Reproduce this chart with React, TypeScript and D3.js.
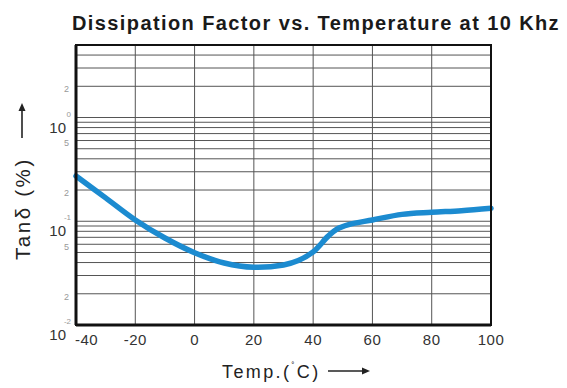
import * as d3 from 'd3';

const temps = [-40, -30, -20, -10, 0, 10, 20, 30, 35, 40, 45, 48, 52, 60, 70, 80, 90, 100];
const tanDelta = [0.273, 0.168, 0.103, 0.069, 0.0498, 0.0396, 0.036, 0.0379, 0.0418, 0.0506, 0.0715, 0.0842, 0.093, 0.103, 0.1165, 0.122, 0.1265, 0.1334];
const xTicks = [-40, -20, 0, 20, 40, 60, 80, 100];
const decades = [0, -1, -2];
const minorLabels = [2, 0.5, 0.2, 0.05, 0.02];

const W = 567;
const H = 388;
const margin = { top: 45, right: 76, bottom: 63, left: 76 };
const font = "'Liberation Sans', Arial, sans-serif";

export default function App() {
  const x = d3.scaleLinear().domain([-40, 100]).range([margin.left, W - margin.right]);
  const y = d3.scaleLog().domain([0.01, 5]).range([H - margin.bottom, margin.top]);

  // log grid: 1..9 in each decade, up to the top of the domain
  const hGrid: number[] = [];
  for (const base of [0.01, 0.1, 1]) {
    for (let k = 1; k <= 9; k++) {
      const v = base * k;
      if (v > 0.01 && v < 5) hGrid.push(v);
    }
  }

  const line = d3.line<number>()
    .x((_, i) => x(temps[i]))
    .y(d => y(d))
    .curve(d3.curveCatmullRom.alpha(0.5));

  const [x0, x1] = x.range();
  const [y0, y1] = y.range();

  return (
    <svg width={W} height={H} style={{ position: 'absolute', left: 0, top: 0, background: '#fff' }} fontFamily={font}>
      <text x={72} y={29.5} fontSize={20} fontWeight="bold" letterSpacing={1.4} fill="#1a1a1a">
        Dissipation Factor vs. Temperature at 10 Khz
      </text>

      {hGrid.map(v => (
        <line key={v} x1={x0} x2={x1} y1={y(v)} y2={y(v)} stroke="#555" strokeWidth={1} />
      ))}
      {xTicks.slice(1, -1).map(t => (
        <line key={t} x1={x(t)} x2={x(t)} y1={y0} y2={y1} stroke="#555" strokeWidth={1} />
      ))}

      <path d={line(tanDelta) ?? ''} fill="none" stroke="#1c8bd0" strokeWidth={5.5} strokeLinecap="round" />

      {/* frame */}
      <rect x={x0} y={y1} width={x1 - x0} height={y0 - y1} fill="none" stroke="#111" strokeWidth={2} />
      <line x1={x0} x2={x1} y1={y0} y2={y0} stroke="#111" strokeWidth={3} />
      <line x1={x0} x2={x0} y1={y0} y2={y1} stroke="#111" strokeWidth={3} />

      {decades.map(e => (
        <g key={e}>
          <text x={66} y={y(Math.pow(10, e)) + 15} fontSize={15} textAnchor="end" fill="#333">10</text>
          <text x={71} y={y(Math.pow(10, e)) - 1} fontSize={8} textAnchor="end" fill="#999">{e}</text>
        </g>
      ))}
      {minorLabels.map(v => (
        <text key={v} x={69} y={y(v) + (String(v).includes('5') ? -6 : 3)} dy="0.35em" fontSize={9} textAnchor="end" fill="#999">
          {String(v).replace(/0\.0?/, '')}
        </text>
      ))}

      {xTicks.map((t, i) => (
        <text key={t} x={i === 0 ? x(t) - 1 : x(t)} y={345} fontSize={15} letterSpacing={0.5}
          textAnchor={i === 0 ? 'start' : 'middle'} fill="#333">{t}</text>
      ))}

      <text x={222} y={378} fontSize={18} letterSpacing={2.4} fill="#222">
        Temp.(<tspan fontSize={9} dy={-9}>˚</tspan><tspan dy={9}>C)</tspan>
      </text>
      <line x1={328} x2={364} y1={371} y2={371} stroke="#222" strokeWidth={1.6} />
      <path d="M362,367.5 L370,371 L362,374.5 Z" fill="#222" />

      <text transform="translate(30,260) rotate(-90)" fontSize={20.5} letterSpacing={2.6} fill="#222">Tanδ (%)</text>
      <line x1={22} x2={22} y1={138} y2={110} stroke="#222" strokeWidth={1.6} />
      <path d="M18.5,111 L22,103 L25.5,111 Z" fill="#222" />
    </svg>
  );
}
